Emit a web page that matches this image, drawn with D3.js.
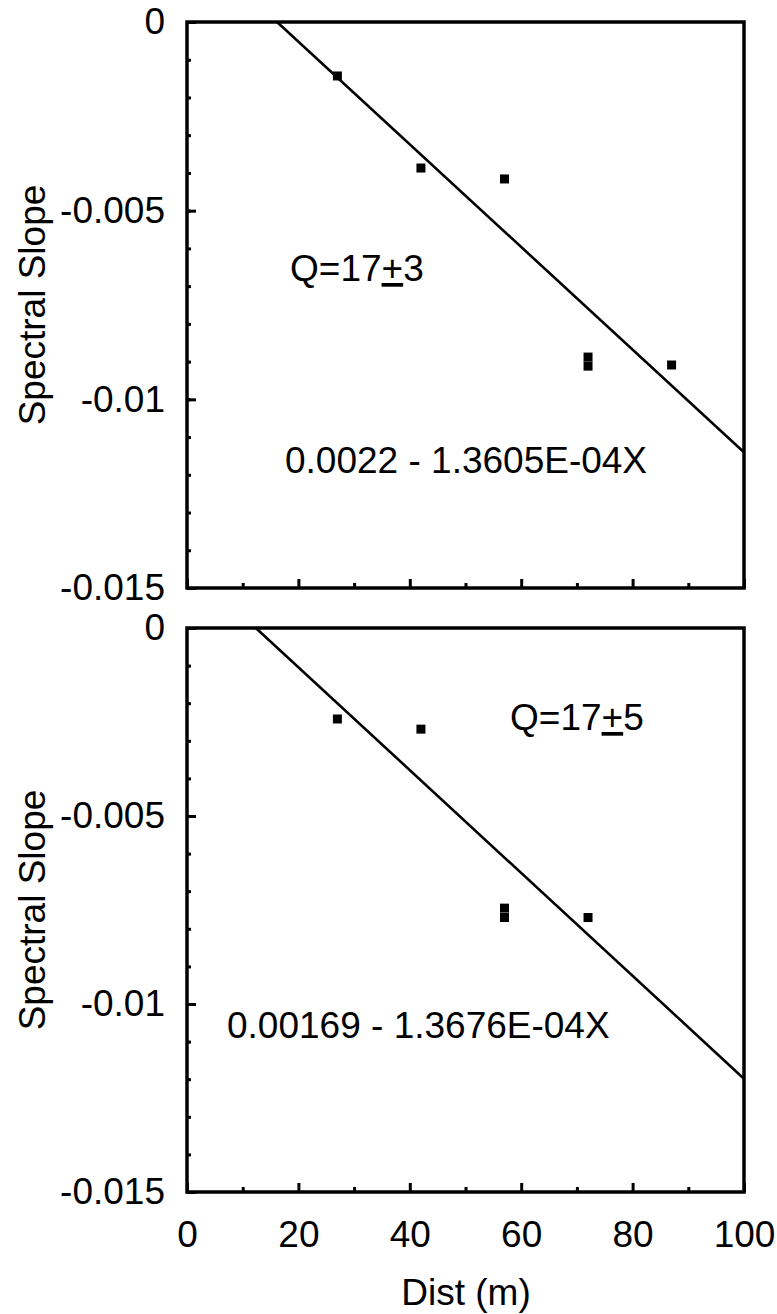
<!DOCTYPE html>
<html>
<head>
<meta charset="utf-8">
<script src="https://cdn.jsdelivr.net/npm/d3@7"></script>
<style>
  html, body { margin: 0; padding: 0; background: #fff; }
  svg { display: block; }
  text { font-family: "Liberation Sans", Arial, Helvetica, sans-serif; fill: #000; }
</style>
</head>
<body>
<svg id="chart" width="777" height="1314"></svg>
<script>
// ---- data ----
const xTickValues = [0, 20, 40, 60, 80, 100];
const xTickLabels = ["0", "20", "40", "60", "80", "100"];
const yTickValues = [0, -0.005, -0.01, -0.015];
const yTickLabels = ["0", "-0.005", "-0.01", "-0.015"];

const topDist  = [27, 42, 57, 72, 72, 87];
const topSlope = [-0.00143, -0.00387, -0.00416, -0.00888, -0.00912, -0.00909];
const topFit   = [0.0022, -1.3605e-4];          // intercept, slope
const topQ     = ["Q=17", "+", "3"];
const topEq    = "0.0022 - 1.3605E-04X";

const botDist  = [27, 42, 57, 57, 72];
const botSlope = [-0.00242, -0.00269, -0.00745, -0.0077, -0.0077];
const botFit   = [0.00169, -1.3676e-4];
const botQ     = ["Q=17", "+", "5"];
const botEq    = "0.00169 - 1.3676E-04X";

const yTitle = "Spectral Slope";
const xTitle = "Dist (m)";

// ---- layout ----
const svg = d3.select("#chart");
const FS = 37;
const X0 = 187, X1 = 744;

const panels = [
  { y0: 22,  y1: 588,  dist: topDist, slope: topSlope, fit: topFit, q: topQ, eq: topEq,
    qPos: [290, 281], eqPos: [285, 473], xLabels: false },
  { y0: 628, y1: 1192, dist: botDist, slope: botSlope, fit: botFit, q: botQ, eq: botEq,
    qPos: [510, 730], eqPos: [227, 1038], xLabels: true }
];

panels.forEach((p, i) => {
  const x = d3.scaleLinear().domain([0, 100]).range([X0, X1]);
  const y = d3.scaleLinear().domain([-0.015, 0]).range([p.y1, p.y0]);
  const g = svg.append("g");

  const clipId = "clip" + i;
  svg.append("clipPath").attr("id", clipId).append("rect")
    .attr("x", X0).attr("y", p.y0).attr("width", X1 - X0).attr("height", p.y1 - p.y0);

  // minor y ticks (every 0.001), inward
  const yMinor = d3.range(0, 16).map(k => -k * 0.001);
  g.append("g").attr("transform", `translate(${X0},0)`)
    .call(d3.axisLeft(y).tickValues(yMinor).tickSize(-4).tickFormat(""))
    .call(a => a.select(".domain").remove())
    .call(a => a.selectAll("line").attr("stroke-width", 3));

  // major y ticks + labels
  g.append("g").attr("transform", `translate(${X0},0)`)
    .call(d3.axisLeft(y).tickValues(yTickValues).tickSize(-9).tickPadding(22)
      .tickFormat((d, k) => yTickLabels[k]))
    .call(a => a.select(".domain").remove())
    .call(a => a.selectAll("line").attr("stroke-width", 3))
    .call(a => a.selectAll("text").attr("font-size", FS).attr("font-family", null));

  // minor x ticks (every 10)
  const xMinor = d3.range(10, 100, 20);
  g.append("g").attr("transform", `translate(0,${p.y1})`)
    .call(d3.axisBottom(x).tickValues(xMinor).tickSize(-5).tickFormat(""))
    .call(a => a.select(".domain").remove())
    .call(a => a.selectAll("line").attr("stroke-width", 3));

  // major x ticks
  g.append("g").attr("transform", `translate(0,${p.y1})`)
    .call(d3.axisBottom(x).tickValues(xTickValues).tickSize(-9).tickPadding(29)
      .tickFormat((d, k) => p.xLabels ? xTickLabels[k] : ""))
    .call(a => a.select(".domain").remove())
    .call(a => a.selectAll("line").attr("stroke-width", 3))
    .call(a => a.selectAll("text").attr("font-size", FS).attr("font-family", null));

  // frame
  g.append("rect")
    .attr("x", X0).attr("y", p.y0).attr("width", X1 - X0).attr("height", p.y1 - p.y0)
    .attr("fill", "none").attr("stroke", "#000").attr("stroke-width", 3.5);

  // fit line
  const xStart = -p.fit[0] / p.fit[1];
  const fitPts = [xStart, 100].map(d => [d, p.fit[0] + p.fit[1] * d]);
  g.append("path")
    .attr("clip-path", `url(#${clipId})`)
    .attr("d", d3.line().x(d => x(d[0])).y(d => y(d[1]))(fitPts))
    .attr("fill", "none").attr("stroke", "#000").attr("stroke-width", 2.6);

  // points
  const sz = 9;
  g.selectAll("rect.pt").data(p.dist).join("rect").attr("class", "pt")
    .attr("x", (d) => x(d) - sz / 2)
    .attr("y", (d, k) => y(p.slope[k]) - sz / 2)
    .attr("width", sz).attr("height", sz).attr("fill", "#000");

  // annotations
  const qt = g.append("text").attr("x", p.qPos[0]).attr("y", p.qPos[1]).attr("font-size", FS);
  qt.append("tspan").text(p.q[0]);
  qt.append("tspan").attr("text-decoration", "underline").text(p.q[1]);
  qt.append("tspan").text(p.q[2]);

  g.append("text").attr("x", p.eqPos[0]).attr("y", p.eqPos[1]).attr("font-size", FS).text(p.eq);

  // y title
  const cy = (p.y0 + p.y1) / 2;
  g.append("text")
    .attr("transform", `translate(45,${cy}) rotate(-90)`)
    .attr("text-anchor", "middle").attr("font-size", FS).text(yTitle);
});

// x title
svg.append("text").attr("x", 466).attr("y", 1305).attr("text-anchor", "middle")
  .attr("font-size", FS).text(xTitle);
</script>
</body>
</html>
